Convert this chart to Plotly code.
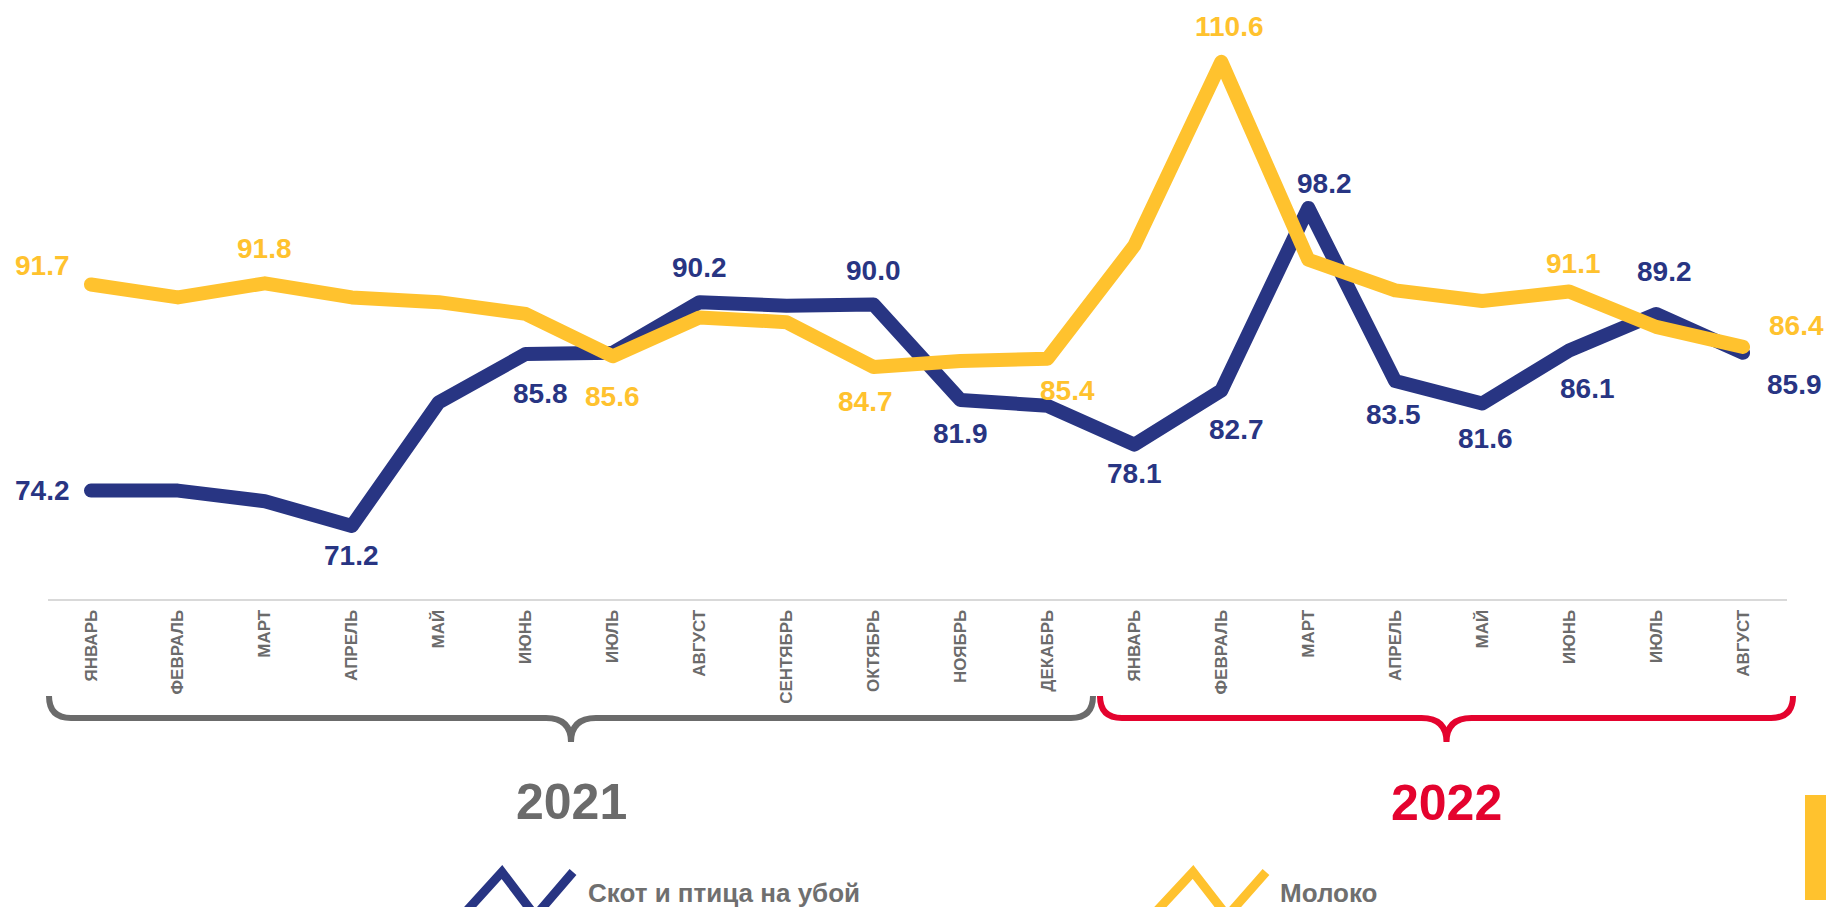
import plotly.graph_objects as go

# ---------------- data ----------------
months = ["ЯНВАРЬ", "ФЕВРАЛЬ", "МАРТ", "АПРЕЛЬ", "МАЙ", "ИЮНЬ", "ИЮЛЬ", "АВГУСТ",
          "СЕНТЯБРЬ", "ОКТЯБРЬ", "НОЯБРЬ", "ДЕКАБРЬ",
          "ЯНВАРЬ", "ФЕВРАЛЬ", "МАРТ", "АПРЕЛЬ", "МАЙ", "ИЮНЬ", "ИЮЛЬ", "АВГУСТ"]
years = ["2021", "2022"]
livestock = [74.2, 74.2, 73.3, 71.2, 81.7, 85.8, 85.9, 90.2, 89.9, 90.0, 81.9, 81.4,
             78.1, 82.7, 98.2, 83.5, 81.6, 86.1, 89.2, 85.9]
milk = [91.7, 90.6, 91.8, 90.6, 90.2, 89.2, 85.6, 88.9, 88.5, 84.7, 85.2, 85.4,
        95.0, 110.6, 93.8, 91.2, 90.3, 91.1, 88.1, 86.4]
series_names = ["Скот и птица на убой", "Молоко"]

# which points carry a value label (indices)
livestock_labeled = [0, 3, 5, 7, 9, 10, 12, 13, 14, 15, 16, 17, 18, 19]
milk_labeled = [0, 2, 6, 9, 11, 13, 17, 19]

# ---------------- styles ----------------
W, H = 1826, 907
BLUE = "#283583"
YELLOW = "#FFC22E"
GRAY = "#6b6b6b"
RED = "#E4032E"
FONT = "Arial, 'Liberation Sans', sans-serif"

# label offsets in screen pixels (dx right, dy down), per labeled point
livestock_offsets = [(-48, 0), (0, 30), (15, 40), (0, -35), (0, -34), (0, 34), (0, 29),
                     (15, 39), (16, -24), (-2, 33), (3, 35), (18, 38), (8, -42), (51, 32)]
milk_offsets = [(-48, -19), (0, -35), (0, 40), (-8, 35), (20, 32), (8, -35), (4, -28), (53, -21)]

# plot area in pixels
PX0, PX1 = 47.5, 1786.5
PY_TOP, PY_BOT = 10, 599


def px(X):
    return X / W


def py(Y):
    return 1 - Y / H


x_idx = list(range(len(months)))

fig = go.Figure()
fig.add_trace(go.Scatter(x=x_idx, y=livestock, mode="lines", name=series_names[0],
                         line=dict(color=BLUE, width=14), showlegend=False, hoverinfo="skip"))
fig.add_trace(go.Scatter(x=x_idx, y=milk, mode="lines", name=series_names[1],
                         line=dict(color=YELLOW, width=14), showlegend=False, hoverinfo="skip"))

annotations = []
for idxs, vals, offs, col in [(livestock_labeled, livestock, livestock_offsets, BLUE),
                              (milk_labeled, milk, milk_offsets, YELLOW)]:
    for i, (dx, dy) in zip(idxs, offs):
        annotations.append(dict(x=i, y=vals[i], xref="x", yref="y", text=f"{vals[i]:.1f}",
                                showarrow=False, xshift=dx, yshift=-dy,
                                font=dict(family=FONT, size=28, color=col, weight="bold")))

# year labels
annotations.append(dict(x=px(571), y=py(802), xref="paper", yref="paper", text=years[0],
                        showarrow=False, xanchor="center", yanchor="middle",
                        font=dict(family=FONT, size=50, color=GRAY, weight="bold")))
annotations.append(dict(x=px(1446), y=py(803), xref="paper", yref="paper", text=years[1],
                        showarrow=False, xanchor="center", yanchor="middle",
                        font=dict(family=FONT, size=50, color=RED, weight="bold")))
# legend texts
annotations.append(dict(x=px(586), y=py(893), xref="paper", yref="paper", text=series_names[0],
                        showarrow=False, xanchor="left", yanchor="middle",
                        font=dict(family=FONT, size=26, color="#6f6f6f", weight="bold")))
annotations.append(dict(x=px(1278), y=py(893), xref="paper", yref="paper", text=series_names[1],
                        showarrow=False, xanchor="left", yanchor="middle",
                        font=dict(family=FONT, size=26, color="#6f6f6f", weight="bold")))


def brace_path(x0, x1, ytop=696, yband=718, ytip=742, r=22, rc=25):
    xc = (x0 + x1) / 2
    pts = [
        ("M", [(x0, ytop)]),
        ("Q", [(x0, yband), (x0 + r, yband)]),
        ("L", [(xc - rc, yband)]),
        ("Q", [(xc, yband), (xc, ytip)]),
        ("Q", [(xc, yband), (xc + rc, yband)]),
        ("L", [(x1 - r, yband)]),
        ("Q", [(x1, yband), (x1, ytop)]),
    ]
    s = ""
    for cmd, ps in pts:
        s += cmd + " " + " ".join(f"{px(a):.6f},{py(b):.6f}" for a, b in ps) + " "
    return s.strip()


def zigzag_path(x0, x1, ytop=872, ybot=916):
    w = (x1 - x0)
    p = [(x0, ybot), (x0 + w * 0.36, ytop), (x0 + w * 0.66, ybot), (x1, ytop)]
    return "M " + " L ".join(f"{px(a):.6f},{py(b):.6f}" for a, b in p)


shapes = [
    dict(type="path", xref="paper", yref="paper", path=brace_path(49, 1093),
         line=dict(color=GRAY, width=6)),
    dict(type="path", xref="paper", yref="paper", path=brace_path(1100, 1793),
         line=dict(color=RED, width=6)),
    dict(type="path", xref="paper", yref="paper", path=zigzag_path(462, 573),
         line=dict(color=BLUE, width=9)),
    dict(type="path", xref="paper", yref="paper", path=zigzag_path(1152, 1266),
         line=dict(color=YELLOW, width=9)),
    dict(type="rect", xref="paper", yref="paper", x0=px(1805), x1=px(1830), y0=py(900), y1=py(795),
         line=dict(width=0), fillcolor=YELLOW),
]

fig.update_layout(
    width=W, height=H,
    margin=dict(l=0, r=0, t=0, b=0, pad=0),
    paper_bgcolor="white", plot_bgcolor="white",
    showlegend=False,
    xaxis=dict(domain=[PX0 / W, PX1 / W], range=[-0.5, 19.5], tickmode="array",
               tickvals=x_idx, ticktext=months, tickangle=-90,
               tickfont=dict(family=FONT, size=17, color="#6b6b6b", weight="bold"),
               showgrid=False, zeroline=False, showline=True, linecolor="#d9d9d9", linewidth=2,
               ticks="", ticklabelstandoff=2, fixedrange=True),
    yaxis=dict(domain=[(H - PY_BOT) / H, (H - PY_TOP) / H], range=[65, 115],
               visible=False, showgrid=False, zeroline=False, fixedrange=True),
    annotations=annotations,
    shapes=shapes,
)

post = (
    "document.body.style.margin='0';document.body.style.overflow='hidden';"
    "document.querySelectorAll('path.js-line').forEach(function(p){"
    "p.style.strokeLinejoin='round';p.style.strokeLinecap='round';});"
)
fig.write_html("out.html", config={"displayModeBar": False}, post_script=post)
